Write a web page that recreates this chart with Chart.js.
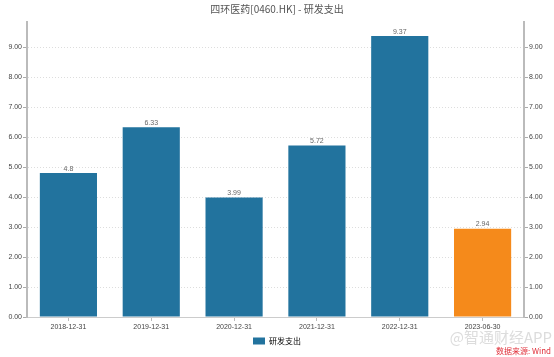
<!DOCTYPE html>
<html><head><meta charset="utf-8">
<script src="https://cdn.jsdelivr.net/npm/chart.js@4/dist/chart.umd.min.js"></script>
<style>html,body{margin:0;padding:0;background:#fff}#w{width:554px;height:357px}</style>
</head><body><div id="w"><canvas id="c" width="554" height="357"></canvas></div>
<script>
const categories = ['2018-12-31','2019-12-31','2020-12-31','2021-12-31','2022-12-31','2023-06-30'];
const values = [4.8, 6.33, 3.99, 5.72, 9.37, 2.94];
const valueLabels = ['4.8','6.33','3.99','5.72','9.37','2.94'];
const barColors = ['#22739e','#22739e','#22739e','#22739e','#22739e','#f58a1b'];
const seriesName = '研发支出';
const titleText = '四环医药[0460.HK] - 研发支出';

const overlay = {
  id:'overlay',
  afterDatasetsDraw(chart){
    const ctx = chart.ctx;
    const meta = chart.getDatasetMeta(0);
    ctx.save();
    ctx.font = '7px "Liberation Sans", Arial, sans-serif';
    ctx.fillStyle = '#666';
    ctx.textAlign = 'center';
    ctx.textBaseline = 'bottom';
    meta.data.forEach((el,i)=>{ ctx.fillText(valueLabels[i], el.x, el.y - 1); });
    ctx.restore();
  },
  afterDraw(chart){
    const ctx = chart.ctx;
    ctx.save();
    ctx.font = '10px "Noto Sans CJK SC", sans-serif';
    ctx.fillStyle = '#555';
    ctx.textAlign = 'center';
    ctx.textBaseline = 'middle';
    ctx.fillText(titleText, 277, 9);
    ctx.font = '15px "Noto Sans CJK SC", sans-serif';
    ctx.fillStyle = 'rgba(205,205,205,0.7)';
    ctx.textAlign = 'right';
    ctx.fillText('@智通财经APP', 552, 337);
    ctx.font = '8px "Noto Sans CJK SC", sans-serif';
    ctx.fillStyle = '#e0303a';
    ctx.fillText('数据来源: Wind', 551, 351);
    ctx.restore();
  }
};

new Chart(document.getElementById('c'), {
  type:'bar',
  data:{ labels: categories, datasets:[{ label: seriesName, data: values, backgroundColor: barColors, borderColor: barColors, borderWidth:0, categoryPercentage:0.69, barPercentage:1 }]},
  options:{
    responsive:false, animation:false,
    layout:{ padding:{ top:22, left:0, right:0, bottom:2 } },
    plugins:{
      legend:{ position:'bottom', labels:{ boxWidth:12, boxHeight:7, padding:3, color:'#555', font:{ size:8, family:'"Noto Sans CJK SC", sans-serif' },
        generateLabels(){ return [{ text: seriesName, fillStyle:'#22739e', strokeStyle:'#22739e', lineWidth:0, datasetIndex:0 }]; } } },
      title:{ display:false }, tooltip:{ enabled:false }
    },
    scales:{
      x:{
        grid:{ display:true, drawOnChartArea:false, drawTicks:true, tickLength:4, offset:false, color:'#bbb' },
        border:{ display:true, color:'#ccc', width:1 },
        ticks:{ color:'#444', font:{ size:7, family:'"Liberation Sans", Arial, sans-serif' }, padding:2, maxRotation:0 },
        afterFit(s){ s.height = 17; }
      },
      y:{
        position:'left', min:0, max:9.84,
        ticks:{ stepSize:1, includeBounds:false, color:'#444', padding:1, font:{ size:7, family:'"Liberation Sans", Arial, sans-serif' }, callback:v=>v.toFixed(2) },
        grid:{ color:'#ddd', tickColor:'#aaa', tickLength:4, tickBorderDash:[], lineWidth:1 },
        border:{ display:true, color:'#bbb', width:2, dash:[1,2] },
        afterFit(s){ s.width = 27; }
      },
      y2:{
        position:'right', min:0, max:9.84,
        ticks:{ stepSize:1, includeBounds:false, color:'#444', padding:1, font:{ size:7, family:'"Liberation Sans", Arial, sans-serif' }, callback:v=>v.toFixed(2) },
        grid:{ drawOnChartArea:false, tickColor:'#aaa', tickLength:4 },
        border:{ display:true, color:'#bbb', width:2 },
        afterFit(s){ s.width = 30; }
      }
    }
  },
  plugins:[overlay]
});
</script></body></html>
